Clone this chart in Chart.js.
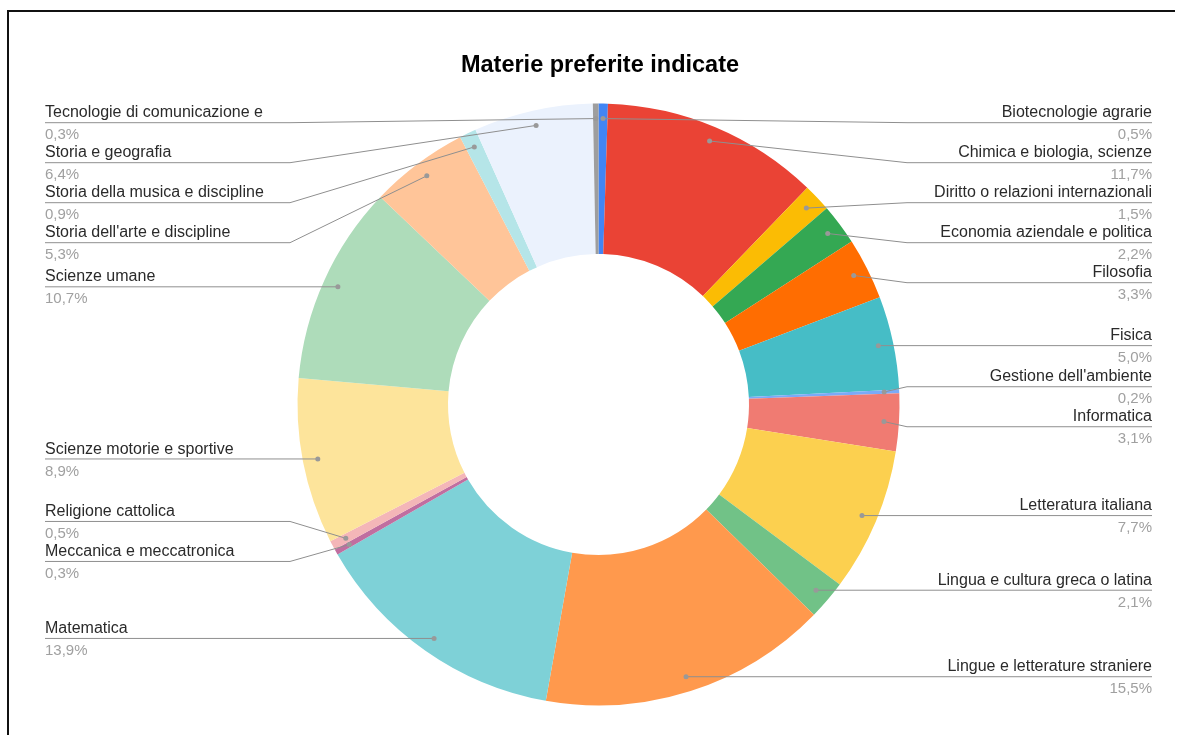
<!DOCTYPE html>
<html>
<head>
<meta charset="utf-8">
<title>Materie preferite indicate</title>
<script src="https://cdn.jsdelivr.net/npm/chart.js@4"></script>
<style>
  body { margin: 0; background: #fff; }
  #wrap { position: relative; width: 1178px; height: 735px; overflow: hidden; }
  #frame {
    position: absolute; left: 7px; top: 10px; width: 1168px; height: 740px;
    border-top: 2px solid #111; border-left: 2px solid #111; box-sizing: border-box;
  }
  canvas { position: absolute; left: 0; top: 0; }
</style>
</head>
<body>
<div id="wrap">
  <div id="frame"></div>
  <canvas id="chart" width="1178" height="735"></canvas>
</div>
<script>
const chartTitle = 'Materie preferite indicate';

const subjects = [
  'Biotecnologie agrarie',
  'Chimica e biologia, scienze',
  'Diritto o relazioni internazionali',
  'Economia aziendale e politica',
  'Filosofia',
  'Fisica',
  "Gestione dell'ambiente",
  'Informatica',
  'Letteratura italiana',
  'Lingua e cultura greca o latina',
  'Lingue e letterature straniere',
  'Matematica',
  'Meccanica e meccatronica',
  'Religione cattolica',
  'Scienze motorie e sportive',
  'Scienze umane',
  "Storia dell'arte e discipline",
  'Storia della musica e discipline',
  'Storia e geografia',
  'Tecnologie di comunicazione e'
];

// percentages of answers
const shares = [0.5, 11.7, 1.5, 2.2, 3.3, 5.0, 0.2, 3.1, 7.7, 2.1, 15.5, 13.9, 0.3, 0.5, 8.9, 10.7, 5.3, 0.9, 6.4, 0.3];

const sliceColors = [
  '#4285f4', '#ea4335', '#fbbc04', '#34a853', '#ff6d01',
  '#46bdc6', '#7baaf7', '#f07b72', '#fcd04f', '#71c287',
  '#ff994d', '#7ed1d7', '#c06ea0', '#f4b6b8', '#fde49b',
  '#aedcba', '#ffc599', '#b5e5e8', '#ebf2fd', '#9e9e9e'
];

const FONT = 'Arial, "Liberation Sans", sans-serif';
const ROW = 40;

function fmtPct(v, total) {
  return (v / total * 100).toFixed(1).replace('.', ',') + '%';
}

// push overlapping labels apart, each cluster centred on its anchors
function spread(items, minY, maxY) {
  items.sort((a, b) => a.py - b.py);
  let groups = items.map(it => ({ items: [it], sum: it.py }));
  const place = g => {
    const n = g.items.length;
    let top = g.sum / n - (n - 1) * ROW / 2;
    top = Math.min(top, maxY - (n - 1) * ROW);
    top = Math.max(top, minY);
    g.top = top;
  };
  let merged = true;
  while (merged) {
    merged = false;
    groups.forEach(place);
    for (let k = 1; k < groups.length; k++) {
      const a = groups[k - 1], b = groups[k];
      if (b.top < a.top + a.items.length * ROW) {
        a.items = a.items.concat(b.items);
        a.sum += b.sum;
        groups.splice(k, 1);
        merged = true;
        break;
      }
    }
  }
  groups.forEach(g => g.items.forEach((it, k) => { it.y = g.top + k * ROW; }));
}

const sideLabels = {
  id: 'sideLabels',
  afterDatasetsDraw(chart) {
    const ctx = chart.ctx;
    const area = chart.chartArea;
    const arcs = chart.getDatasetMeta(0).data;
    const total = shares.reduce((a, b) => a + b, 0);
    const right = [], left = [];
    let cx = 0, outer = 0;

    arcs.forEach((arc, i) => {
      cx = arc.x; outer = arc.outerRadius;
      const mid = (arc.startAngle + arc.endAngle) / 2;
      const r = arc.outerRadius * 0.95;
      const it = { i, px: arc.x + Math.cos(mid) * r, py: arc.y + Math.sin(mid) * r };
      (it.px >= arc.x ? right : left).push(it);
    });

    spread(right, area.top + 19.2, area.bottom);
    spread(left, area.top + 19.2, area.bottom);

    const draw = (it, side) => {
      const kneeX = cx + side * (outer + 7.5);
      const endX = side > 0 ? 1152 : 45;
      ctx.strokeStyle = '#8f8f8f';
      ctx.lineWidth = 1;
      ctx.beginPath();
      ctx.moveTo(it.px, it.py);
      ctx.lineTo(kneeX, it.y);
      ctx.lineTo(endX, it.y);
      ctx.stroke();
      ctx.fillStyle = '#999';
      ctx.beginPath();
      ctx.arc(it.px, it.py, 2.5, 0, Math.PI * 2);
      ctx.fill();

      ctx.textAlign = side > 0 ? 'right' : 'left';
      ctx.textBaseline = 'alphabetic';
      ctx.font = '16px ' + FONT;
      ctx.fillStyle = '#2a2a2a';
      ctx.fillText(subjects[it.i], endX, it.y - 5.4);
      ctx.font = '15px ' + FONT;
      ctx.fillStyle = '#a0a0a0';
      ctx.fillText(fmtPct(shares[it.i], total), endX, it.y + 16.6);
    };

    ctx.save();
    right.forEach(it => draw(it, 1));
    left.forEach(it => draw(it, -1));

    ctx.font = 'bold 23.5px ' + FONT;
    ctx.fillStyle = '#000';
    ctx.textAlign = 'center';
    ctx.textBaseline = 'alphabetic';
    ctx.fillText(chartTitle, 600, 72);
    ctx.restore();
  }
};

new Chart(document.getElementById('chart'), {
  type: 'doughnut',
  data: {
    labels: subjects,
    datasets: [{
      data: shares,
      backgroundColor: sliceColors,
      borderWidth: 0,
      hoverOffset: 0
    }]
  },
  options: {
    responsive: false,
    animation: false,
    events: [],
    cutout: '50%',
    layout: { padding: { left: 297.5, right: 278.5, top: 103.5, bottom: 29.5 } },
    plugins: {
      legend: { display: false },
      tooltip: { enabled: false },
      title: { display: false }
    }
  },
  plugins: [sideLabels]
});
</script>
</body>
</html>
